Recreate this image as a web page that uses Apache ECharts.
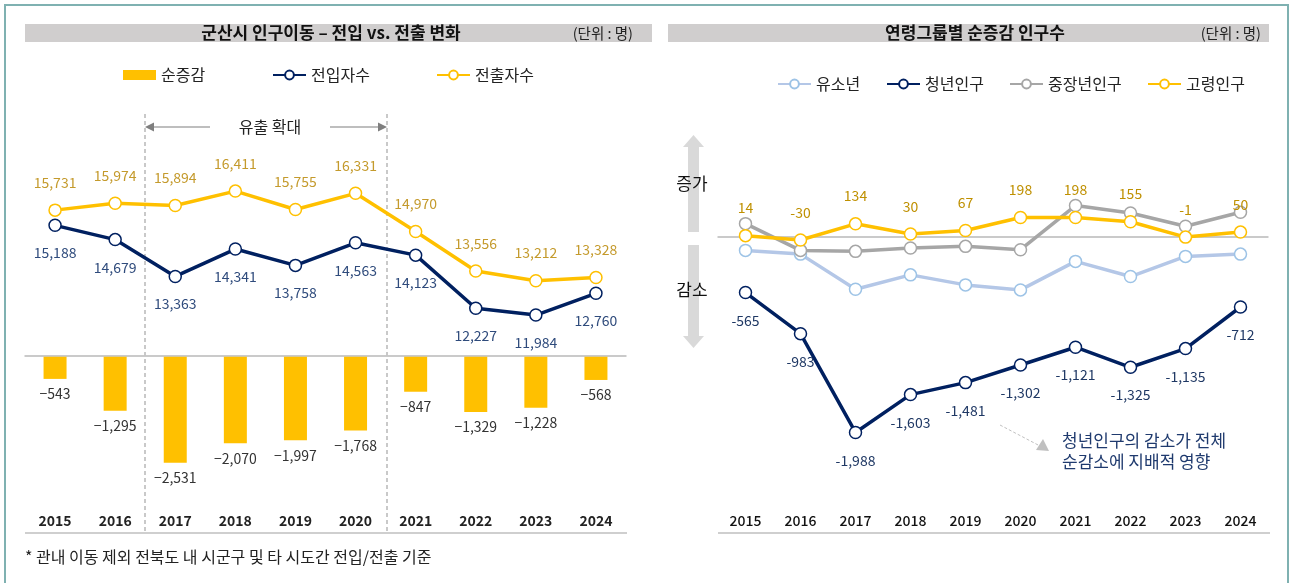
<!DOCTYPE html>
<html>
<head>
<meta charset="utf-8">
<script src="https://cdn.jsdelivr.net/npm/echarts@6/dist/echarts.min.js"></script>
<style>
	html, body { margin: 0; padding: 0; background: #fff; }
	#main { width: 1292px; height: 583px; }
</style>
</head>
<body>
<div id="main"></div>
<script>
	// 연도
	var years = ['2015', '2016', '2017', '2018', '2019', '2020', '2021', '2022', '2023', '2024'];
	// 왼쪽: 순증감 / 전입자수 / 전출자수
	var netMove = [-543, -1295, -2531, -2070, -1997, -1768, -847, -1329, -1228, -568];
	var moveIn = [15188, 14679, 13363, 14341, 13758, 14563, 14123, 12227, 11984, 12760];
	var moveOut = [15731, 15974, 15894, 16411, 15755, 16331, 14970, 13556, 13212, 13328];
	// 오른쪽: 연령그룹별 순증감 (유소년, 중장년은 그림에서 추정)
	var youthNet = [-136, -174, -531, -385, -487, -538, -248, -402, -197, -174];
	var youngNet = [-565, -983, -1988, -1603, -1481, -1302, -1121, -1325, -1135, -712];
	var middleNet = [136, -136, -146, -112, -95, -129, 320, 245, 109, 252];
	var seniorNet = [14, -30, 134, 30, 67, 198, 198, 155, -1, 50];

	var FONT = "'Noto Sans CJK KR', 'Noto Sans', sans-serif";
	var NAVY = '#002060';
	var GOLD = '#FFC000';

	function comma(v) {
		return Math.abs(v).toString().replace(/\B(?=(\d{3})+(?!\d))/g, ',');
	}

	var myChart = echarts.init(document.getElementById('main'));

	function legendItem(name, left, top, icon) {
		var lg = {
			data: [name],
			left: left,
			top: top,
			itemWidth: 33,
			itemHeight: 11,
			itemGap: 4,
			textStyle: { fontFamily: FONT, fontSize: 16, color: '#222' },
			selectedMode: false
		};
		if (icon) { lg.icon = icon; lg.itemHeight = 10; }
		return lg;
	}

	function lineSeries(name, data, color, markerBorder, xi, yi, z) {
		return {
			name: name,
			type: 'line',
			xAxisIndex: xi,
			yAxisIndex: yi,
			data: data,
			z: z,
			symbol: 'circle',
			symbolSize: 12,
			lineStyle: { color: color, width: 3.5 },
			itemStyle: { color: '#fff', borderColor: markerBorder, borderWidth: 1.5 },
			emphasis: { disabled: true }
		};
	}

	var sIn = lineSeries('전입자수', moveIn, NAVY, NAVY, 0, 1, 3);
	sIn.label = { show: true, position: 'bottom', distance: 14, color: '#2F4B7C', fontFamily: FONT, fontSize: 14,
		formatter: function (p) { return comma(p.value); } };
	var sOut = lineSeries('전출자수', moveOut, GOLD, GOLD, 0, 1, 3);
	sOut.label = { show: true, position: 'top', distance: 14, color: '#C49A2C', fontFamily: FONT, fontSize: 14,
		formatter: function (p) { return comma(p.value); } };

	var sYouth = lineSeries('유소년', youthNet, '#B4C7E7', '#9DC3E6', 1, 2, 3);
	sYouth.markLine = {
		silent: true, symbol: 'none', label: { show: false },
		lineStyle: { color: '#c8c8c8', width: 1.5, type: 'solid' },
		data: [{ yAxis: 0 }]
	};
	var sYoung = lineSeries('청년인구', youngNet, NAVY, NAVY, 1, 2, 4);
	sYoung.label = { show: true, position: 'bottom', distance: 14, color: '#1F3864', fontFamily: FONT, fontSize: 14,
		formatter: function (p) { return (p.value < 0 ? '-' : '') + comma(p.value); } };
	var sMiddle = lineSeries('중장년인구', middleNet, '#A6A6A6', '#A6A6A6', 1, 2, 5);
	var sSenior = lineSeries('고령인구', seniorNet, GOLD, GOLD, 1, 2, 6);
	sSenior.label = { show: true, position: 'top', distance: 14, color: '#BF9000', fontFamily: FONT, fontSize: 14,
		formatter: function (p) { return (p.value < 0 ? '-' : '') + comma(p.value); } };

	var option = {
		animation: false,
		textStyle: { fontFamily: FONT },
		legend: [
			legendItem('순증감', 118, 62, 'rect'),
			legendItem('전입자수', 267, 62),
			legendItem('전출자수', 431, 62),
			legendItem('유소년', 772, 71),
			legendItem('청년인구', 881, 71),
			legendItem('중장년인구', 1004, 71),
			legendItem('고령인구', 1142, 71)
		],
		grid: [
			{ left: 25, right: 666, top: 120, bottom: 78 },
			{ left: 718, right: 24, top: 110, bottom: 78 }
		],
		xAxis: [
			{
				type: 'category', gridIndex: 0, data: years,
				axisLine: { lineStyle: { color: '#bfbfbf', width: 1.5 } },
				axisTick: { show: false },
				axisLabel: { color: '#222', fontSize: 14, fontWeight: 'bold', margin: 9, fontFamily: FONT }
			},
			{
				type: 'category', gridIndex: 1, data: years,
				axisLine: { lineStyle: { color: '#bfbfbf', width: 1.5 } },
				axisTick: { show: false },
				axisLabel: { color: '#111', fontSize: 14, fontWeight: 500, margin: 9, fontFamily: FONT }
			}
		],
		yAxis: [
			{ type: 'value', gridIndex: 0, min: -3530, max: 5590, show: false },
			{ type: 'value', gridIndex: 0, min: 5200, max: 18950, show: false },
			{ type: 'value', gridIndex: 1, min: -2726, max: 1292, show: false }
		],
		series: [
			{
				name: '순증감',
				type: 'bar',
				xAxisIndex: 0,
				yAxisIndex: 0,
				data: netMove,
				barWidth: 23,
				itemStyle: { color: GOLD },
				label: {
					show: true, position: 'bottom', distance: 8, color: '#333', fontFamily: FONT, fontSize: 14,
					formatter: function (p) { return '\u2212' + comma(p.value); }
				},
				markLine: {
					silent: true, symbol: 'none', label: { show: false },
					lineStyle: { color: '#c9c9c9', width: 1.5, type: 'solid' },
					data: [{ yAxis: 0 }]
				},
				emphasis: { disabled: true }
			},
			sIn, sOut,
			sYouth, sYoung, sMiddle, sSenior
		],
		graphic: [
			// 바깥 테두리
			{ type: 'polyline', shape: { points: [[5, 600], [5, 5], [1288, 5], [1288, 600]] },
				style: { fill: null, stroke: '#7fb1b1', lineWidth: 2 }, silent: true },
			// 제목 바
			{ type: 'rect', shape: { x: 25, y: 24, width: 627, height: 18 }, style: { fill: '#d0cece' }, silent: true },
			{ type: 'rect', shape: { x: 668, y: 24, width: 601, height: 18 }, style: { fill: '#d0cece' }, silent: true },
			{ type: 'text', x: 331, y: 33, style: { text: '군산시 인구이동 – 전입 vs. 전출 변화', font: 'bold 17px ' + FONT,
				fill: '#111', textAlign: 'center', textVerticalAlign: 'middle' } },
			{ type: 'text', x: 633, y: 33, style: { text: '(단위 : 명)', font: '14.5px ' + FONT,
				fill: '#222', textAlign: 'right', textVerticalAlign: 'middle' } },
			{ type: 'text', x: 975, y: 33, style: { text: '연령그룹별 순증감 인구수', font: 'bold 17px ' + FONT,
				fill: '#111', textAlign: 'center', textVerticalAlign: 'middle' } },
			{ type: 'text', x: 1261, y: 33, style: { text: '(단위 : 명)', font: '14.5px ' + FONT,
				fill: '#222', textAlign: 'right', textVerticalAlign: 'middle' } },
			// 유출 확대 구간
			{ type: 'line', shape: { x1: 145, y1: 114, x2: 145, y2: 533 },
				style: { stroke: '#a6a6a6', lineWidth: 1.2, lineDash: [4, 3] }, silent: true },
			{ type: 'line', shape: { x1: 387, y1: 114, x2: 387, y2: 533 },
				style: { stroke: '#a6a6a6', lineWidth: 1.2, lineDash: [4, 3] }, silent: true },
			{ type: 'line', shape: { x1: 152, y1: 127, x2: 210, y2: 127 }, style: { stroke: '#7f7f7f', lineWidth: 1.2 } },
			{ type: 'polygon', shape: { points: [[145, 127], [154, 122.5], [154, 131.5]] }, style: { fill: '#7f7f7f' } },
			{ type: 'line', shape: { x1: 330, y1: 127, x2: 380, y2: 127 }, style: { stroke: '#7f7f7f', lineWidth: 1.2 } },
			{ type: 'polygon', shape: { points: [[387, 127], [378, 122.5], [378, 131.5]] }, style: { fill: '#7f7f7f' } },
			{ type: 'text', x: 270, y: 127, style: { text: '유출 확대', font: '16px ' + FONT,
				fill: '#222', textAlign: 'center', textVerticalAlign: 'middle' } },
			// x축 아래 선
			{ type: 'line', shape: { x1: 25, y1: 533, x2: 627, y2: 533 }, style: { stroke: '#bfbfbf', lineWidth: 1.5 } },
			{ type: 'line', shape: { x1: 718, y1: 533, x2: 1270, y2: 533 }, style: { stroke: '#bfbfbf', lineWidth: 1.5 } },
			// 증가 / 감소 화살표
			{ type: 'rect', shape: { x: 688, y: 145, width: 11, height: 87 }, style: { fill: '#d9d9d9' } },
			{ type: 'polygon', shape: { points: [[683, 147], [693.5, 135], [704, 147]] }, style: { fill: '#d9d9d9' } },
			{ type: 'rect', shape: { x: 688, y: 245, width: 11, height: 91 }, style: { fill: '#d9d9d9' } },
			{ type: 'polygon', shape: { points: [[683, 336], [704, 336], [693.5, 348]] }, style: { fill: '#d9d9d9' } },
			{ type: 'text', x: 692, y: 184, style: { text: '증가', font: '17px ' + FONT,
				fill: '#111', textAlign: 'center', textVerticalAlign: 'middle' } },
			{ type: 'text', x: 692, y: 290, style: { text: '감소', font: '17px ' + FONT,
				fill: '#111', textAlign: 'center', textVerticalAlign: 'middle' } },
			// 주석
			{ type: 'line', shape: { x1: 1000, y1: 425, x2: 1040, y2: 446 },
				style: { stroke: '#c0c0c0', lineWidth: 1, lineDash: [3, 2] } },
			{ type: 'polygon', shape: { points: [[1049, 451], [1036, 450], [1043, 439]] }, style: { fill: '#c0c0c0' } },
			{ type: 'text', x: 1062, y: 441, style: { text: '청년인구의 감소가 전체', font: '17px ' + FONT,
				fill: '#1F3A6E', textAlign: 'left', textVerticalAlign: 'middle' } },
			{ type: 'text', x: 1062, y: 462, style: { text: '순감소에 지배적 영향', font: '17px ' + FONT,
				fill: '#1F3A6E', textAlign: 'left', textVerticalAlign: 'middle' } },
			// 각주
			{ type: 'text', x: 25, y: 557, style: { text: '* 관내 이동 제외 전북도 내 시군구 및 타 시도간 전입/전출 기준',
				font: '16px ' + FONT, fill: '#222', textAlign: 'left', textVerticalAlign: 'middle' } }
		]
	};

	myChart.setOption(option);
</script>
</body>
</html>
